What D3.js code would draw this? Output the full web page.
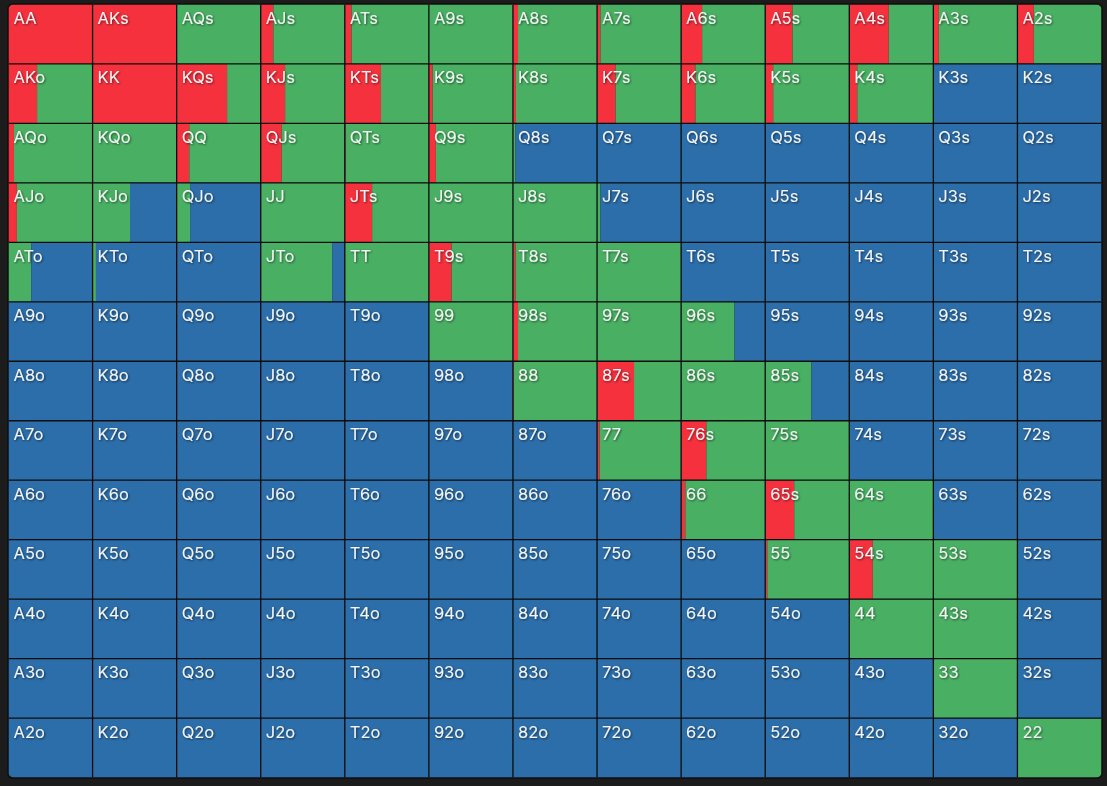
<!DOCTYPE html>
<html>
<head>
<meta charset="utf-8">
<script src="https://cdn.jsdelivr.net/npm/d3@7"></script>
<style>
  html, body { margin: 0; padding: 0; background: #1c1c1c; }
  svg { display: block; }
</style>
</head>
<body>
<svg id="chart" width="1107" height="786"></svg>
<script>
const ranks = ["A","K","Q","J","T","9","8","7","6","5","4","3","2"];

// Raise frequency per cell, row by row (row = first rank in table order)
const raiseFreq = [
  [1, 1, 0, 0.15, 0.08, 0, 0.06, 0.04, 0.25, 0.325, 0.47, 0.065, 0.195],
  [0.34, 1, 0.6, 0.29, 0.43, 0.045, 0.035, 0.22, 0.17, 0.095, 0.095, 0, 0],
  [0.065, 0, 0.15, 0.25, 0.01, 0.083, 0, 0, 0, 0, 0, 0, 0],
  [0.1, 0, 0, 0, 0.325, 0, 0, 0, 0, 0, 0, 0, 0],
  [0, 0, 0, 0, 0, 0.27, 0.03, 0, 0, 0, 0, 0, 0],
  [0, 0, 0, 0, 0, 0, 0.06, 0, 0, 0, 0, 0, 0],
  [0, 0, 0, 0, 0, 0, 0.01, 0.44, 0, 0, 0, 0, 0],
  [0, 0, 0, 0, 0, 0, 0, 0.03, 0.3, 0, 0, 0, 0],
  [0, 0, 0, 0, 0, 0, 0, 0, 0.05, 0.345, 0, 0, 0],
  [0, 0, 0, 0, 0, 0, 0, 0, 0, 0.025, 0.28, 0, 0],
  [0, 0, 0, 0, 0, 0, 0, 0, 0, 0, 0, 0, 0],
  [0, 0, 0, 0, 0, 0, 0, 0, 0, 0, 0, 0, 0],
  [0, 0, 0, 0, 0, 0, 0, 0, 0, 0, 0, 0, 0]
];

// Call frequency per cell
const callFreq = [
  [0, 0, 1, 0.85, 0.92, 1, 0.94, 0.96, 0.75, 0.675, 0.53, 0.935, 0.805],
  [0.66, 0, 0.4, 0.71, 0.57, 0.955, 0.965, 0.78, 0.83, 0.905, 0.905, 0, 0],
  [0.935, 1, 0.85, 0.75, 0.99, 0.917, 0.03, 0, 0, 0, 0, 0, 0],
  [0.9, 0.445, 0.16, 1, 0.675, 1, 1, 0.04, 0, 0, 0, 0, 0],
  [0.27, 0.04, 0, 0.85, 1, 0.73, 0.97, 1, 0, 0, 0, 0, 0],
  [0, 0, 0, 0, 0, 1, 0.94, 1, 0.635, 0, 0, 0, 0],
  [0, 0, 0, 0, 0, 0, 0.99, 0.56, 1, 0.55, 0, 0, 0],
  [0, 0, 0, 0, 0, 0, 0, 0.97, 0.7, 1, 0, 0, 0],
  [0, 0, 0, 0, 0, 0, 0, 0, 0.95, 0.655, 1, 0, 0],
  [0, 0, 0, 0, 0, 0, 0, 0, 0, 0.975, 0.72, 1, 0],
  [0, 0, 0, 0, 0, 0, 0, 0, 0, 0, 1, 1, 0],
  [0, 0, 0, 0, 0, 0, 0, 0, 0, 0, 0, 1, 0],
  [0, 0, 0, 0, 0, 0, 0, 0, 0, 0, 0, 0, 1]
];

const actions = ["raise", "call", "fold"];
const actionColors = ["#f5313e", "#49b063", "#2c6eaa"];

(function () {
const svg = d3.select("#chart");
const gLeft = 8.5, gRight = 1101.5, gTop = 4.5, gBottom = 777.5;

const x = d3.scaleBand().domain(d3.range(13)).range([gLeft, gRight]);
const y = d3.scaleBand().domain(d3.range(13)).range([gTop, gBottom]);
const frac = d3.scaleLinear().domain([0, 1]).range([0, x.bandwidth()]);
const color = d3.scaleOrdinal().domain(actions).range(actionColors);

const defs = svg.append("defs");
defs.append("clipPath").attr("id", "panelClip")
  .append("rect").attr("x", gLeft).attr("y", gTop)
  .attr("width", gRight - gLeft).attr("height", gBottom - gTop).attr("rx", 5);
const f = defs.append("filter").attr("id", "shadow").attr("x", "-20%").attr("y", "-40%").attr("width", "140%").attr("height", "180%");
f.append("feDropShadow").attr("dx", 1).attr("dy", 1).attr("stdDeviation", 1)
  .attr("flood-color", "#000").attr("flood-opacity", 0.55);

svg.append("rect").attr("x", gLeft - 1.5).attr("y", gTop - 1.5)
  .attr("width", gRight - gLeft + 3).attr("height", gBottom - gTop + 3)
  .attr("rx", 6).attr("fill", "#111");

function label(r, c) {
  if (r === c) return ranks[r] + ranks[c];
  if (c > r) return ranks[r] + ranks[c] + "s";
  return ranks[c] + ranks[r] + "o";
}

const cells = [];
for (let r = 0; r < 13; r++) {
  for (let c = 0; c < 13; c++) {
    const rs = raiseFreq[r][c], cs = callFreq[r][c];
    const fs = Math.max(0, 1 - rs - cs);
    cells.push({ r, c, label: label(r, c), parts: [
      { action: "raise", start: 0, v: rs },
      { action: "call", start: rs, v: cs },
      { action: "fold", start: rs + cs, v: fs }
    ]});
  }
}

const g = svg.append("g").attr("clip-path", "url(#panelClip)");

const cellG = g.selectAll("g.cell").data(cells).join("g")
  .attr("class", "cell")
  .attr("transform", d => `translate(${x(d.c)},${y(d.r)})`);

cellG.selectAll("rect").data(d => d.parts.filter(p => p.v > 0)).join("rect")
  .attr("x", p => frac(p.start))
  .attr("y", 0)
  .attr("width", p => frac(p.v))
  .attr("height", y.bandwidth())
  .attr("fill", p => color(p.action));

const gridG = g.append("g").attr("stroke", "#0d0d0d").attr("stroke-width", 1.3);
gridG.selectAll("line.v").data(d3.range(1, 13)).join("line")
  .attr("class", "v")
  .attr("x1", i => x(i)).attr("x2", i => x(i))
  .attr("y1", gTop).attr("y2", gBottom);
gridG.selectAll("line.h").data(d3.range(1, 13)).join("line")
  .attr("class", "h")
  .attr("y1", i => y(i)).attr("y2", i => y(i))
  .attr("x1", gLeft).attr("x2", gRight);

g.append("g").selectAll("text").data(cells).join("text")
  .attr("x", d => x(d.c) + 5)
  .attr("y", d => y(d.r) + 19.5)
  .attr("fill", "#f4f4f4")
  .attr("font-family", "Inter, 'Noto Sans', sans-serif")
  .attr("font-size", "16.5px")
  .attr("filter", "url(#shadow)")
  .text(d => d.label);
})();
</script>
</body>
</html>
